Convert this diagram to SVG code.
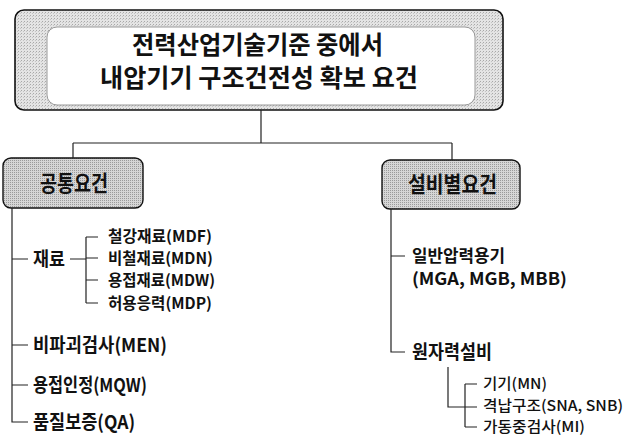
<svg xmlns="http://www.w3.org/2000/svg" width="635" height="442" viewBox="0 0 635 442">
<defs>
<pattern id="dots" width="3" height="3" patternUnits="userSpaceOnUse">
<rect width="3" height="3" fill="#e4e4e4"/>
<rect x="0" y="0" width="1" height="1" fill="#a8a8a8"/>
<rect x="2" y="1" width="1" height="1" fill="#c4c4c4"/>
</pattern>
<pattern id="dots2" width="2" height="2" patternUnits="userSpaceOnUse">
<rect width="2" height="2" fill="#d6d6d6"/>
<rect x="0" y="0" width="1" height="1" fill="#9a9a9a"/>
</pattern>
</defs>
<style>
text{font-family:"Noto Sans CJK KR","Noto Sans",sans-serif;fill:#111}
.t{font-size:25px;font-weight:bold}
.h{font-size:22px;font-weight:bold}
.m{font-size:19px;font-weight:bold}
.g{font-size:17px;font-weight:bold}
.s{font-size:15.5px;font-weight:bold}
.r{font-size:15px;font-weight:500}
.ln{stroke:#222;stroke-width:1.2;fill:none}
</style>
<rect width="635" height="442" fill="#fff"/>
<g id="root">
<rect x="15" y="10" width="488" height="100" rx="9" fill="url(#dots)" stroke="#111" stroke-width="1.6"/>
<rect x="47" y="27" width="428" height="78" rx="10" fill="#fff" stroke="#999" stroke-width="1"/>
<text class="t" x="132" y="54" textLength="251" lengthAdjust="spacingAndGlyphs">전력산업기술기준 중에서</text>
<text class="t" x="100" y="87" textLength="318" lengthAdjust="spacingAndGlyphs">내압기기 구조건전성 확보 요건</text>
</g>
<g id="common">
<rect x="3" y="158" width="140" height="50" rx="8" fill="url(#dots2)" stroke="#111" stroke-width="1.4"/>
<text class="h" x="40" y="191" textLength="68" lengthAdjust="spacingAndGlyphs">공통요건</text>
</g>
<g id="equip">
<rect x="382" y="160" width="138" height="49" rx="8" fill="url(#dots2)" stroke="#111" stroke-width="1.4"/>
<text class="h" x="408" y="192" textLength="89" lengthAdjust="spacingAndGlyphs">설비별요건</text>
</g>
<g id="material"><text class="m" x="33" y="266" textLength="32" lengthAdjust="spacingAndGlyphs">재료</text></g>
<g id="mdf"><text class="s" x="108" y="242" textLength="104" lengthAdjust="spacingAndGlyphs">철강재료(MDF)</text></g>
<g id="mdn"><text class="s" x="108" y="264" textLength="105" lengthAdjust="spacingAndGlyphs">비철재료(MDN)</text></g>
<g id="mdw"><text class="s" x="108" y="286" textLength="107" lengthAdjust="spacingAndGlyphs">용접재료(MDW)</text></g>
<g id="mdp"><text class="s" x="108" y="309" textLength="104" lengthAdjust="spacingAndGlyphs">허용응력(MDP)</text></g>
<g id="men"><text class="m" x="33" y="352" textLength="134" lengthAdjust="spacingAndGlyphs">비파괴검사(MEN)</text></g>
<g id="mqw"><text class="m" x="33" y="392" textLength="114" lengthAdjust="spacingAndGlyphs">용접인정(MQW)</text></g>
<g id="qa"><text class="m" x="33" y="429" textLength="102" lengthAdjust="spacingAndGlyphs">품질보증(QA)</text></g>
<g id="general"><text class="g" x="412" y="262" textLength="93" lengthAdjust="spacingAndGlyphs">일반압력용기</text><text class="g" x="412" y="285" textLength="155" lengthAdjust="spacingAndGlyphs">(MGA, MGB, MBB)</text></g>
<g id="nuclear"><text class="m" x="412" y="359" textLength="80" lengthAdjust="spacingAndGlyphs">원자력설비</text></g>
<g id="mn"><text class="r" x="483" y="389" textLength="64" lengthAdjust="spacingAndGlyphs">기기(MN)</text></g>
<g id="sna"><text class="r" x="483" y="411" textLength="140" lengthAdjust="spacingAndGlyphs">격납구조(SNA, SNB)</text></g>
<g id="mi"><text class="r" x="483" y="432" textLength="102" lengthAdjust="spacingAndGlyphs">가동중검사(MI)</text></g>
<g id="connectors" class="ln">
<path d="M261 110V143M73 143H452M73 143V158M452 143V160"/>
<path d="M12 208V422H28M12 259H28M12 345H28M12 385H28"/>
<path d="M70 259H86M86 237V303M86 237H98M86 258H98M86 280H98M86 303H98"/>
<path d="M391 209V352H405M391 256H405"/>
<path d="M448 367V407H465M465 384V427M465 384H477M465 407H477M465 427H477"/>
</g>
</svg>
